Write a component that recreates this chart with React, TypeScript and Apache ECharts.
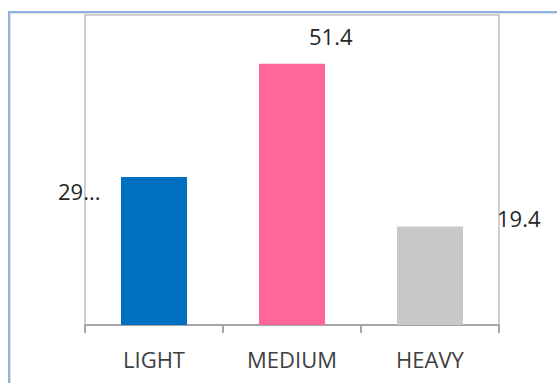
import React, { useEffect, useRef } from "react";
import * as echarts from "echarts";

const categories = ["LIGHT", "MEDIUM", "HEAVY"];
const values = [29.1, 51.4, 19.4];
const valueLabels = ["29...", "51.4", "19.4"];
const barColors = ["#0070C0", "#FF6699", "#C8C8C8"];
const labelOffsets = [
  [-63, 14],
  [50, -28],
  [100, -8],
];

export default function App() {
  const ref = useRef<HTMLDivElement>(null);
  useEffect(() => {
    document.body.style.margin = "0";
    const chart = echarts.init(ref.current!, null, { renderer: "svg" });
    chart.setOption({
      animation: false,
      backgroundColor: "#ffffff",
      grid: {
        left: 85,
        right: 58,
        top: 15,
        bottom: 58,
        show: true,
        borderColor: "#D0D0D0",
        borderWidth: 2,
        backgroundColor: "transparent",
      },
      graphic: [
        {
          type: "rect",
          shape: { x: 9, y: 12, width: 700, height: 500 },
          style: { fill: "none", stroke: "#8DB4E2", lineWidth: 2 },
          silent: true,
        },
        {
          type: "rect",
          shape: { x: 10.5, y: 13.5, width: 700, height: 500 },
          style: { fill: "none", stroke: "#E0E0E0", lineWidth: 1 },
          silent: true,
        },
      ],
      xAxis: {
        type: "category",
        data: categories,
        offset: 3,
        axisLine: { show: true, lineStyle: { color: "#A6A6A6", width: 2 } },
        axisTick: { show: true, length: 8, lineStyle: { color: "#A6A6A6", width: 2 } },
        axisLabel: {
          color: "#404040",
          fontFamily: "Open Sans",
          fontSize: 22,
          margin: 20,
        },
        splitLine: { show: false },
      },
      yAxis: {
        type: "value",
        min: 0,
        max: 61,
        show: false,
        splitLine: { show: false },
      },
      series: [
        {
          type: "bar",
          barWidth: 66,
          data: values.map((v, i) => ({
            value: v,
            itemStyle: { color: barColors[i] },
            label: {
              show: true,
              position: labelOffsets[i],
              align: "left",
              verticalAlign: "middle",
              formatter: () => valueLabels[i],
              color: "#262626",
              fontFamily: "Open Sans",
              fontSize: 22,
            },
          })),
        },
      ],
    });
    return () => chart.dispose();
  }, []);
  return (
    <div
      ref={ref}
      style={{ position: "absolute", left: 0, top: 0, width: 557, height: 383 }}
    />
  );
}
